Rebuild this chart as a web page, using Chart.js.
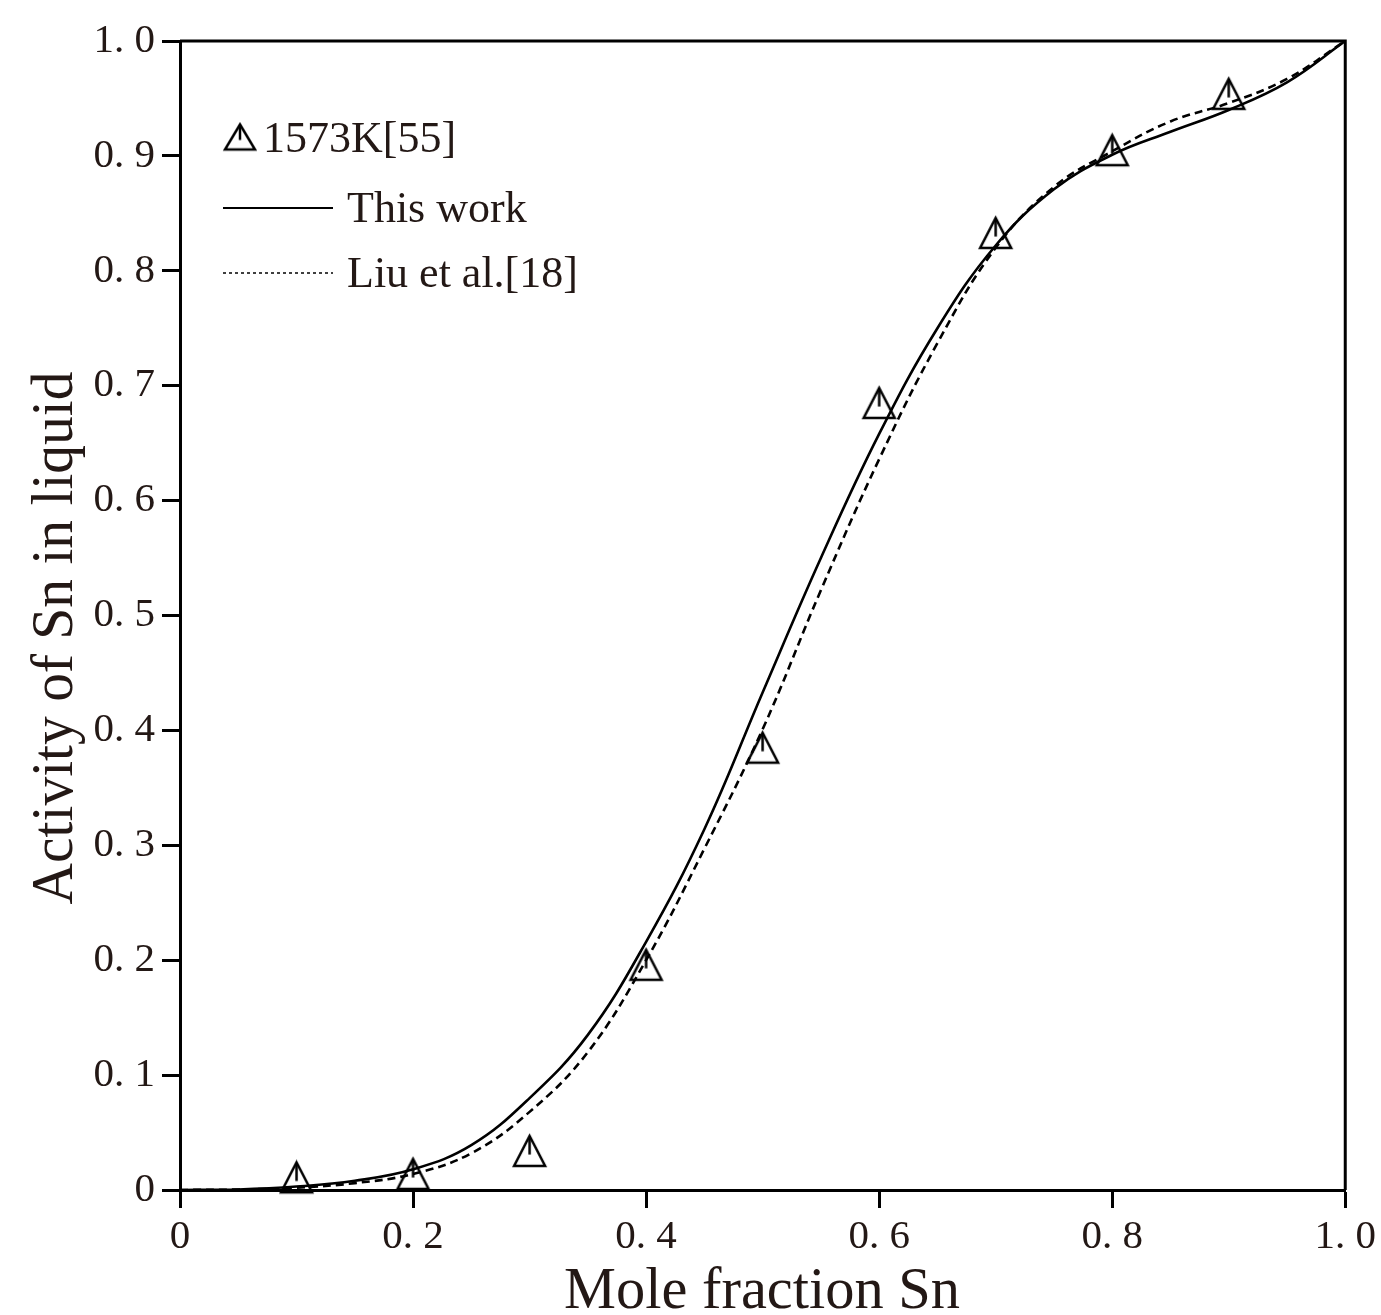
<!DOCTYPE html>
<html>
<head>
<meta charset="utf-8">
<script src="https://cdn.jsdelivr.net/npm/chart.js@4.4.0/dist/chart.umd.min.js"></script>
<style>
  html, body { margin: 0; padding: 0; background: #fff; }
  #grafica { display: block; }
</style>
</head>
<body>
<canvas id="grafica" width="1381" height="1315"></canvas>
<script>
// measured activities, 1573 K [55]
const expX = [0.1, 0.2, 0.3, 0.4, 0.5, 0.6, 0.7, 0.8, 0.9];
const expY = [0.011, 0.014, 0.034, 0.196, 0.385, 0.685, 0.833, 0.905, 0.954];

// calculated curves
const calcX = [0, 0.05, 0.1, 0.15, 0.2, 0.25, 0.3, 0.35, 0.4, 0.45, 0.5,
               0.55, 0.6, 0.65, 0.7, 0.75, 0.8, 0.85, 0.9, 0.95, 1.0];
const thisWork = [0, 0.0005, 0.003, 0.008, 0.018, 0.039, 0.080, 0.135, 0.216, 0.314, 0.433,
                  0.550, 0.658, 0.750, 0.822, 0.871, 0.901, 0.921, 0.940, 0.964, 1.0];
const liuEtAl = [0, 0.0004, 0.002, 0.006, 0.014, 0.032, 0.068, 0.120, 0.200, 0.297, 0.401,
                 0.522, 0.636, 0.737, 0.820, 0.873, 0.904, 0.930, 0.946, 0.967, 1.0];

const xTickLabels = ['0', '0. 2', '0. 4', '0. 6', '0. 8', '1. 0'];
const yTickLabels = ['0', '0. 1', '0. 2', '0. 3', '0. 4', '0. 5', '0. 6', '0. 7', '0. 8', '0. 9', '1. 0'];

const textColor = '#231815';
Chart.defaults.font.family = '"Liberation Serif", "DejaVu Serif", serif';
Chart.defaults.color = textColor;

// open triangle with a short stroke down from the apex
function makeTriangle(w, h) {
    const c = document.createElement('canvas');
    c.width = w + 6;
    c.height = h + 6;
    const g = c.getContext('2d');
    const cx = c.width / 2;
    g.strokeStyle = '#000';
    g.lineWidth = 2.5;
    g.lineJoin = 'miter';
    g.beginPath();
    g.moveTo(cx, 3);
    g.lineTo(cx + w / 2, 3 + h);
    g.lineTo(cx - w / 2, 3 + h);
    g.closePath();
    g.stroke();
    g.beginPath();
    g.moveTo(cx, 3);
    g.lineTo(cx, 3 + h * 0.62);
    g.stroke();
    return c;
}
const triMark = makeTriangle(31, 30);
const triLegend = makeTriangle(30, 25);

const toPoints = (xs, ys) => xs.map((x, i) => ({ x: x, y: ys[i] }));

// frame, axis titles and the legend box
const decorations = {
    id: 'decorations',
    afterDraw(chart) {
        const ctx = chart.ctx;
        const a = chart.chartArea;

        ctx.save();
        ctx.strokeStyle = '#000';
        ctx.lineWidth = 3;
        ctx.beginPath();
        ctx.moveTo(a.left, a.top);
        ctx.lineTo(a.right, a.top);
        ctx.lineTo(a.right, a.bottom);
        ctx.stroke();
        ctx.restore();

        drawTitle(ctx, 'Mole fraction Sn', 762, 1308, 396, false);
        drawTitle(ctx, 'Activity of Sn in liquid', 72, 638, 533, true);

        ctx.save();
        ctx.drawImage(triLegend, 240 - triLegend.width / 2, 137 - triLegend.height / 2);
        ctx.fillStyle = textColor;
        ctx.font = '44px "Liberation Serif"';
        ctx.textBaseline = 'alphabetic';
        ctx.fillText('1573K[55]', 263, 152);
        ctx.fillText('This work', 347, 222);
        ctx.fillText('Liu et al.[18]', 347, 287);

        ctx.strokeStyle = '#000';
        ctx.lineWidth = 1.8;
        ctx.beginPath();
        ctx.moveTo(223, 208);
        ctx.lineTo(333, 208);
        ctx.stroke();
        ctx.lineWidth = 1.5;
        ctx.setLineDash([3, 3]);
        ctx.beginPath();
        ctx.moveTo(223, 273);
        ctx.lineTo(333, 273);
        ctx.stroke();
        ctx.restore();
    }
};

function drawTitle(ctx, text, x, y, width, vertical) {
    ctx.save();
    ctx.translate(x, y);
    if (vertical) ctx.rotate(-Math.PI / 2);
    ctx.font = '60px "Liberation Serif"';
    ctx.fillStyle = textColor;
    ctx.textAlign = 'center';
    ctx.textBaseline = 'alphabetic';
    const w = ctx.measureText(text).width;
    ctx.scale(width / w, 1);
    ctx.fillText(text, 0, 0);
    ctx.restore();
}

const graph = document.querySelector('#grafica');

new Chart(graph, {
    type: 'scatter',
    data: {
        datasets: [
            {
                label: '1573K[55]',
                data: toPoints(expX, expY),
                pointStyle: triMark,
                pointRadius: 16,
                clip: false
            },
            {
                label: 'This work',
                data: toPoints(calcX, thisWork),
                showLine: true,
                borderColor: '#000',
                borderWidth: 2.6,
                pointRadius: 0,
                tension: 0.4
            },
            {
                label: 'Liu et al.[18]',
                data: toPoints(calcX, liuEtAl),
                showLine: true,
                borderColor: '#000',
                borderWidth: 2.6,
                borderDash: [8, 5],
                pointRadius: 0,
                tension: 0.4
            }
        ]
    },
    options: {
        responsive: false,
        animation: false,
        layout: { padding: { top: 41, right: 35, left: 0, bottom: 0 } },
        plugins: {
            legend: { display: false },
            tooltip: { enabled: false }
        },
        scales: {
            x: {
                type: 'linear',
                min: 0,
                max: 1,
                afterFit: s => { s.height = 125; },
                ticks: {
                    stepSize: 0.2,
                    autoSkip: false,
                    maxRotation: 0,
                    padding: 5,
                    color: textColor,
                    font: { size: 41 },
                    callback: (v, i) => xTickLabels[i]
                },
                grid: {
                    drawOnChartArea: false,
                    tickLength: 18,
                    tickWidth: 3,
                    tickColor: '#000'
                },
                border: { display: true, color: '#000', width: 3 }
            },
            y: {
                min: 0,
                max: 1,
                afterFit: s => { s.width = 180; },
                ticks: {
                    stepSize: 0.1,
                    autoSkip: false,
                    padding: 7,
                    color: textColor,
                    font: { size: 41 },
                    callback: (v, i) => yTickLabels[i]
                },
                grid: {
                    drawOnChartArea: false,
                    tickLength: 18,
                    tickWidth: 3,
                    tickColor: '#000'
                },
                border: { display: true, color: '#000', width: 3 }
            }
        }
    },
    plugins: [decorations]
});
</script>
</body>
</html>
